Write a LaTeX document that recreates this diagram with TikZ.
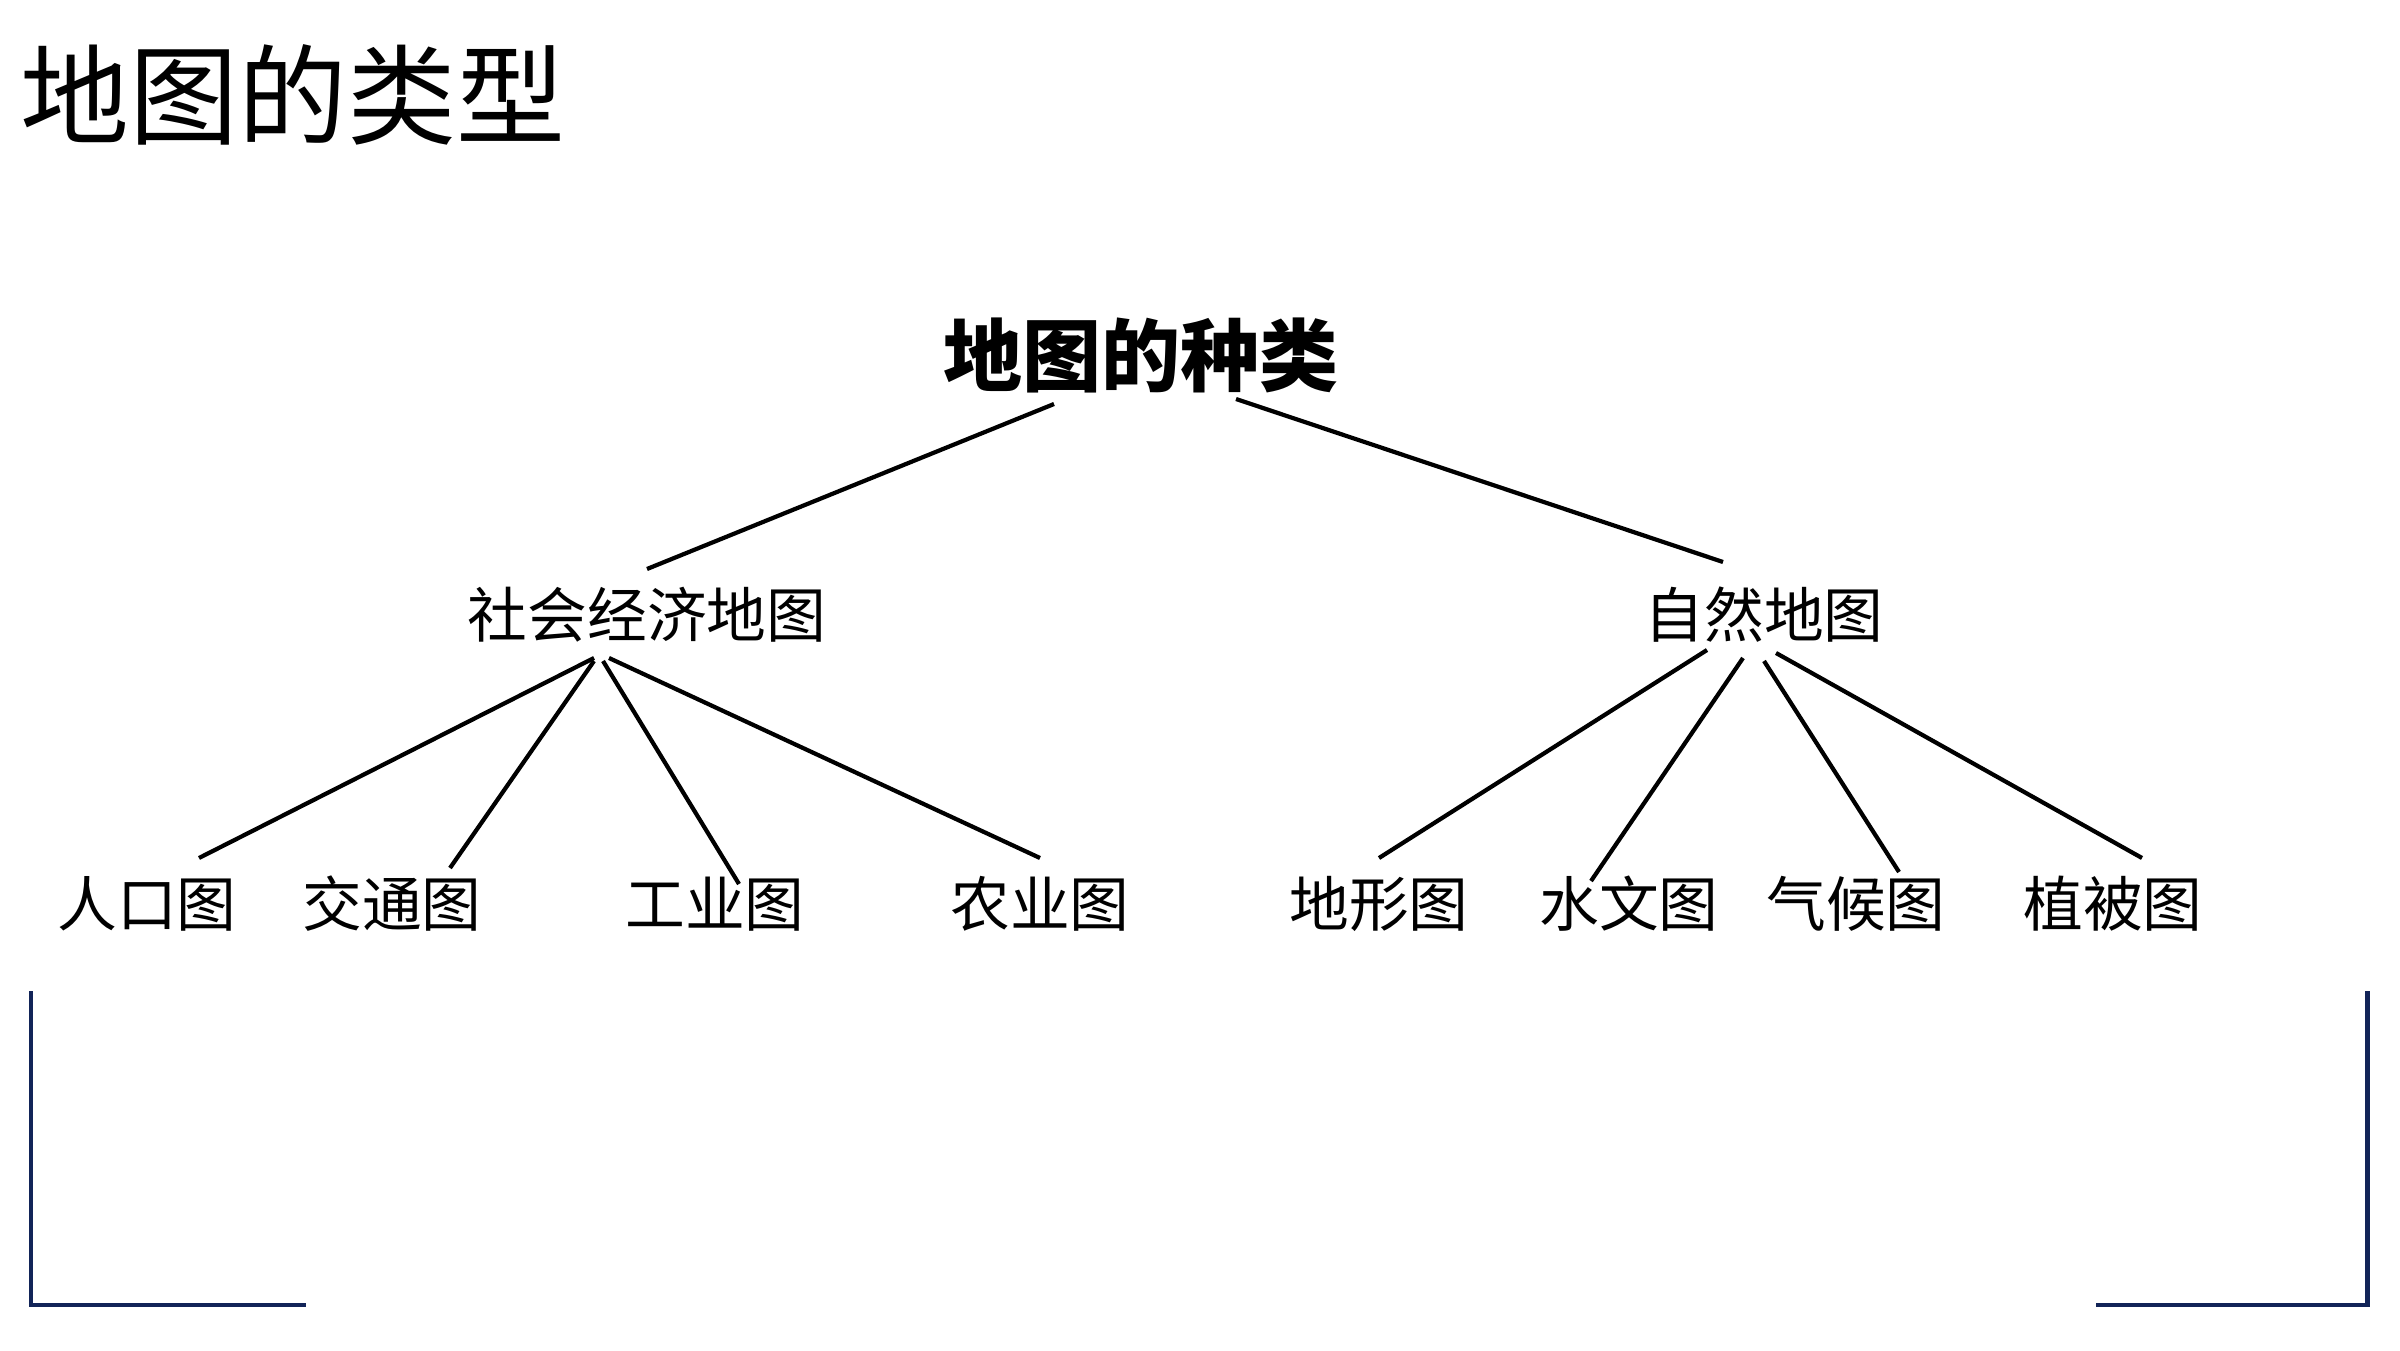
\documentclass[tikz,border=0pt]{standalone}
\usepackage{fontspec}
\newfontfamily\cjk{Noto Sans CJK SC}
\definecolor{navy}{RGB}{18,36,88}
\begin{document}
\begin{tikzpicture}
        \tikzset{every node/.style={inner sep=0pt,font=\cjk},
          leaf/.style={font=\cjk\fontsize{17}{17}\selectfont},
          mid/.style={font=\cjk\fontsize{17}{17}\selectfont},
          edge/.style={black,line width=1.2pt},
          frame/.style={navy,line width=1.4pt}}
        \useasboundingbox (0,0) rectangle (24,13.5);
        % title
        \node [anchor=west] (title) at (0.2,12.55) {\fontsize{31}{31}\selectfont 地图的类型};
        % tree
        \node (root) at (11.41,9.95) {\fontsize{22.5}{22.5}\selectfont\bfseries 地图的种类};
        \node [mid] (soc) at (6.47,7.35) {社会经济地图};
        \node [mid] (nat) at (17.64,7.35) {自然地图};
        \node [leaf] (pop) at (1.47,4.46) {人口图};
        \node [leaf] (tra) at (3.92,4.46) {交通图};
        \node [leaf] (ind) at (7.15,4.46) {工业图};
        \node [leaf] (agr) at (10.40,4.46) {农业图};
        \node [leaf] (ter) at (13.79,4.46) {地形图};
        \node [leaf] (hyd) at (16.29,4.46) {水文图};
        \node [leaf] (cli) at (18.56,4.46) {气候图};
        \node [leaf] (veg) at (21.13,4.46) {植被图};
        \draw [edge] ([shift={(-0.87,-0.49)}]root.center) -- ([shift={(0,0.46)}]soc.center);
        \draw [edge] ([shift={(0.95,-0.44)}]root.center) -- ([shift={(-0.41,0.53)}]nat.center);
        \draw [edge] ([shift={(-0.53,-0.43)}]soc.center) -- ([shift={(0.52,0.46)}]pop.center);
        \draw [edge] ([shift={(-0.53,-0.46)}]soc.center) -- ([shift={(0.58,0.36)}]tra.center);
        \draw [edge] ([shift={(-0.44,-0.46)}]soc.center) -- ([shift={(0.24,0.2)}]ind.center);
        \draw [edge] ([shift={(-0.38,-0.43)}]soc.center) -- ([shift={(0,0.46)}]agr.center);
        \draw [edge] ([shift={(-0.57,-0.35)}]nat.center) -- ([shift={(0,0.46)}]ter.center);
        \draw [edge] ([shift={(-0.21,-0.43)}]nat.center) -- ([shift={(-0.38,0.23)}]hyd.center);
        \draw [edge] ([shift={(0,-0.46)}]nat.center) -- ([shift={(0.43,0.32)}]cli.center);
        \draw [edge] ([shift={(0.12,-0.38)}]nat.center) -- ([shift={(0.29,0.46)}]veg.center);
        % corner brackets
        \draw [frame] (0.31,3.59) -- (0.31,0.45) -- (3.06,0.45);
        \draw [frame] (20.96,0.45) -- (23.67,0.45) -- (23.67,3.59);
\end{tikzpicture}
\end{document}
